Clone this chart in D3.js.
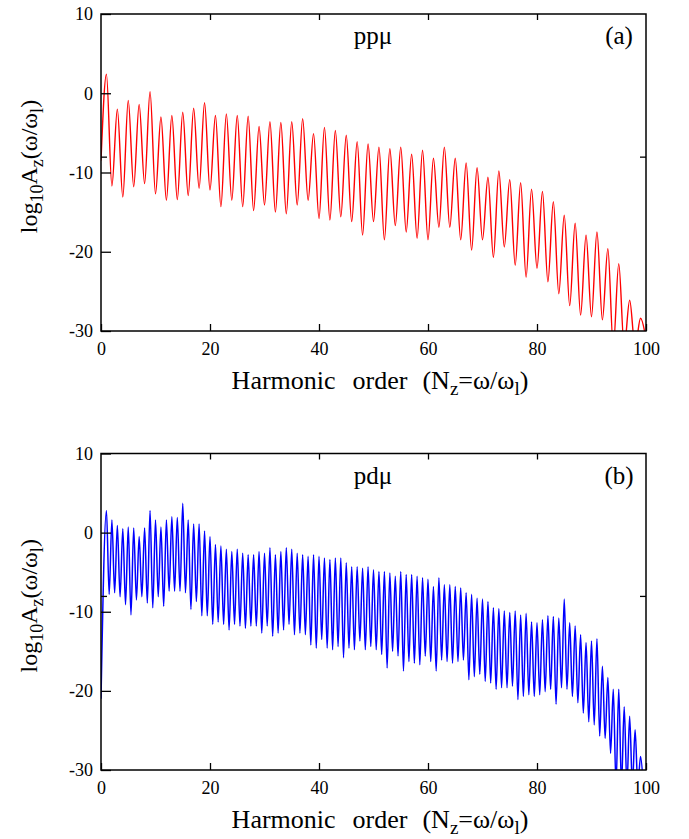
<!DOCTYPE html>
<html>
<head>
<meta charset="utf-8">
<script src="https://cdn.jsdelivr.net/npm/d3@7"></script>
<style>
  body { margin: 0; background: #fff; }
</style>
</head>
<body>
<svg id="chart" width="689" height="839"></svg>
<script>
// axis ticks
const harmonicTicks = [0, 20, 40, 60, 80, 100];
const logTicks = [10, 0, -10, -20, -30];
const minorLogTicks = [-8];

// panel (a) ppμ: maxima at odd harmonics, minima at even harmonics (0..100)
const ppmuPeaks = [
  2.4, -2.0, -0.9, -1.4, 0.2, -3.0, -2.8, -2.4, -1.9, -1.2,
  -2.8, -2.6, -2.8, -2.9, -4.2, -3.6, -3.7, -3.6, -3.2, -5.1,
  -4.3, -4.7, -5.3, -6.1, -6.4, -6.8, -7.0, -6.8, -7.7, -7.2,
  -8.2, -6.8, -8.2, -8.8, -9.4, -10.6, -9.8, -10.9, -11.3, -12.1,
  -12.4, -13.7, -15.4, -16.4, -17.9, -17.5, -19.6, -21.5, -26.1, -28.4
];
const ppmuTroughs = [
  -8.5, -11.7, -13.1, -11.8, -11.4, -12.7, -13.5, -13.4, -12.9, -12.0,
  -12.2, -14.3, -13.5, -14.3, -14.8, -14.1, -15.0, -15.2, -14.1, -13.5,
  -15.8, -16.0, -15.6, -16.2, -17.9, -16.2, -18.5, -16.7, -17.5, -18.3,
  -18.5, -16.9, -16.9, -18.5, -19.8, -18.5, -20.7, -19.4, -21.7, -23.2,
  -22.1, -23.8, -25.3, -26.8, -28.0, -28.2, -28.6, -32, -32, -32, -31
];

// panel (b) pdμ: maxima at every harmonic 1..99, minima at 1.5..99.5
const pdmuStart = -21;
const pdmuPeaks = [
  2.8, 1.6, 0.9, 0.5, 0.7, 0.6, -0.5, 0.6, 2.8, 1.6,
  0.7, 1.6, 2.0, 1.9, 3.7, 1.6, 1.1, 1.1, 0.2, -0.5,
  -1.5, -1.7, -2.1, -2.4, -2.1, -2.6, -2.8, -2.8, -2.4, -2.6,
  -1.9, -2.8, -2.4, -1.9, -2.1, -2.6, -2.8, -3.0, -2.8, -3.0,
  -3.2, -3.4, -3.2, -3.2, -3.8, -4.3, -4.3, -4.5, -4.3, -4.7,
  -4.9, -4.9, -5.1, -5.5, -4.9, -5.3, -5.3, -5.5, -5.7, -5.9,
  -6.8, -5.7, -6.6, -6.6, -6.8, -7.0, -7.6, -7.8, -8.3, -8.4,
  -8.7, -9.5, -9.6, -9.9, -10.1, -9.9, -10.4, -10.2, -11.3, -11.4,
  -11.0, -10.5, -10.6, -10.8, -8.4, -11.4, -11.8, -12.9, -13.9, -13.7,
  -13.4, -16.9, -18.3, -19.8, -19.8, -22.0, -23.2, -24.9, -28.3
];
const pdmuTroughs = [
  -7.8, -7.6, -8.1, -9.1, -10.4, -8.5, -8.1, -8.9, -9.5, -8.1,
  -9.3, -7.4, -7.4, -7.4, -7.6, -9.7, -8.7, -10.5, -10.5, -11.6,
  -11.3, -11.6, -12.3, -11.6, -11.8, -12.1, -11.8, -11.8, -12.7, -11.8,
  -13.1, -12.7, -12.3, -11.6, -12.9, -12.7, -12.9, -14.2, -14.6, -13.5,
  -14.6, -14.8, -14.4, -15.8, -14.6, -14.8, -13.7, -14.8, -14.4, -14.8,
  -15.4, -17.1, -15.0, -15.6, -17.5, -16.3, -16.5, -16.7, -15.6, -16.3,
  -17.5, -16.1, -16.3, -16.5, -16.3, -16.1, -18.6, -18.2, -17.9, -18.8,
  -19.0, -19.8, -19.6, -19.6, -19.4, -21.1, -20.7, -20.5, -20.7, -20.5,
  -20.1, -19.8, -21.7, -19.6, -19.8, -20.7, -21.5, -22.8, -23.9, -24.3,
  -25.7, -26.0, -27.9, -32, -32, -32, -32, -32, -32
];

// turn the peak/trough lists into [x, y] points
function ppmuPoints() {
  const pts = [];
  ppmuTroughs.forEach((v, i) => {
    pts.push([2 * i, v]);
    if (i < ppmuPeaks.length) pts.push([2 * i + 1, ppmuPeaks[i]]);
  });
  return pts;
}
function pdmuPoints() {
  const pts = [[0, pdmuStart]];
  pdmuPeaks.forEach((v, i) => {
    pts.push([i + 1, v]);
    pts.push([i + 1.5, pdmuTroughs[i]]);
  });
  return pts;
}

const FONT = "'Liberation Serif'";
const svg = d3.select("#chart");
const left = 101, right = 646;

function makePanel(opts) {
  const x = d3.scaleLinear().domain([0, 100]).range([left, right]);
  const y = d3.scaleLinear().domain([-30, 10]).range([opts.bottom, opts.top]);
  const g = svg.append("g");

  g.append("clipPath").attr("id", "clip-" + opts.id)
    .append("rect")
    .attr("x", left).attr("y", opts.top)
    .attr("width", right - left).attr("height", opts.bottom - opts.top);

  const line = d3.line()
    .curve(d3.curveMonotoneX)
    .x(d => x(d[0]))
    .y(d => y(d[1]));

  g.append("path")
    .datum(opts.data)
    .attr("clip-path", "url(#clip-" + opts.id + ")")
    .attr("fill", "none")
    .attr("stroke", opts.color)
    .attr("stroke-width", opts.width)
    .attr("stroke-linejoin", "round")
    .attr("d", line);

  // left axis, ticks pointing in
  g.append("g")
    .attr("transform", "translate(" + left + ",0)")
    .call(d3.axisLeft(y).tickValues(logTicks).tickSize(-10).tickPadding(8).tickFormat(d => String(d)));
  g.append("g")
    .attr("transform", "translate(" + left + ",0)")
    .call(d3.axisLeft(y).tickValues(minorLogTicks).tickSize(-6).tickFormat(""));
  g.append("g")
    .attr("transform", "translate(" + right + ",0)")
    .call(d3.axisRight(y).tickValues(minorLogTicks).tickSize(-6).tickFormat(""));

  const xAxis = g.append("g")
    .attr("transform", "translate(0," + opts.bottom + ")")
    .call(d3.axisBottom(x).tickValues(harmonicTicks).tickSize(-7).tickPadding(10).tickFormat(d => String(d)));
  g.append("g")
    .attr("transform", "translate(0," + opts.top + ")")
    .call(d3.axisTop(x).tickValues(harmonicTicks.slice(1, -1)).tickSize(-6).tickFormat(""));

  g.selectAll(".domain").remove();
  g.selectAll("g").attr("font-family", FONT);
  g.selectAll(".tick line").attr("stroke", "#000").attr("stroke-width", 1.3);
  g.selectAll(".tick text")
    .attr("font-family", FONT)
    .attr("font-size", 18)
    .attr("fill", "#000");
  xAxis.selectAll(".tick text").attr("dy", "0.75em");

  g.append("rect")
    .attr("x", left).attr("y", opts.top)
    .attr("width", right - left).attr("height", opts.bottom - opts.top)
    .attr("fill", "none").attr("stroke", "#000").attr("stroke-width", 1.5);

  // labels inside the frame
  g.append("text").attr("x", 373).attr("y", opts.top + 30)
    .attr("font-family", FONT)
    .attr("text-anchor", "middle").attr("font-size", 25).text(opts.name);
  g.append("text").attr("x", 619).attr("y", opts.top + 30)
    .attr("font-family", FONT)
    .attr("text-anchor", "middle").attr("font-size", 25).text(opts.tag);

  // x axis title
  const xt = g.append("text")
    .attr("x", 380).attr("y", opts.bottom + 58)
    .attr("font-family", FONT)
    .attr("text-anchor", "middle").attr("font-size", 26);
  xt.append("tspan").text("Harmonic");
  xt.append("tspan").attr("dx", 17).text("order");
  xt.append("tspan").attr("dx", 15).text("(N");
  xt.append("tspan").attr("dy", 6).attr("font-size", 19).text("z");
  xt.append("tspan").attr("dy", -6).text("=ω/ω");
  xt.append("tspan").attr("dy", 6).attr("font-size", 19).text("l");
  xt.append("tspan").attr("dy", -6).text(")");

  // y axis title
  const mid = (opts.top + opts.bottom) / 2 - 6;
  const yt = g.append("text")
    .attr("transform", "translate(37," + mid + ") rotate(-90)")
    .attr("font-family", FONT)
    .attr("text-anchor", "middle").attr("font-size", 24);
  yt.append("tspan").text("log");
  yt.append("tspan").attr("dy", 6).attr("font-size", 18).text("10");
  yt.append("tspan").attr("dy", -6).text("A");
  yt.append("tspan").attr("dy", 6).attr("font-size", 18).text("z");
  yt.append("tspan").attr("dy", -6).text("(ω/ω");
  yt.append("tspan").attr("dy", 6).attr("font-size", 18).text("l");
  yt.append("tspan").attr("dy", -6).text(")");
}

makePanel({ id: "a", top: 14, bottom: 331, color: "#ff0000", width: 1.4, data: ppmuPoints(), name: "ppμ", tag: "(a)" });
makePanel({ id: "b", top: 453.5, bottom: 770, color: "#0000ff", width: 1.5, data: pdmuPoints(), name: "pdμ", tag: "(b)" });
</script>
</body>
</html>
